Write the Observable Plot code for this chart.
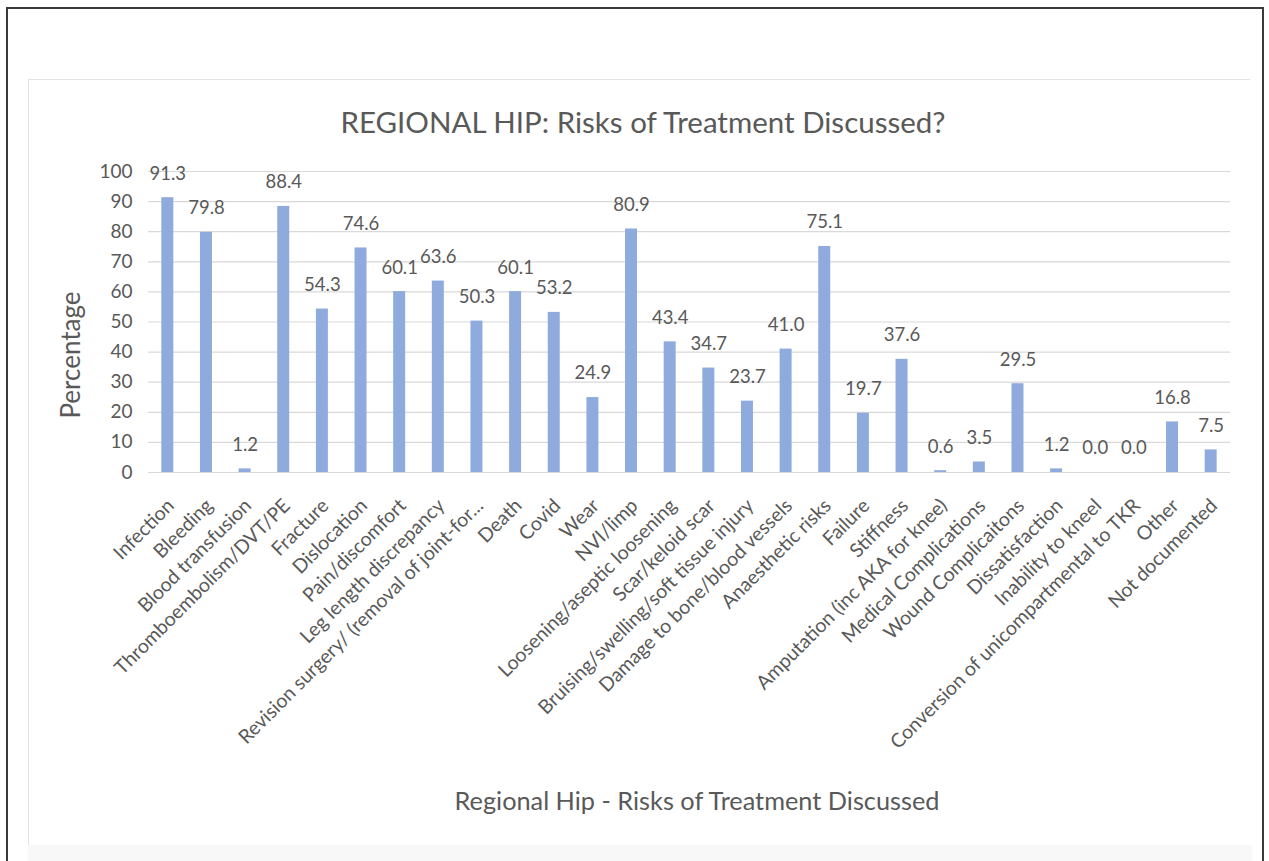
<!DOCTYPE html>
<html>
<head>
<meta charset="utf-8">
<script src="https://cdn.jsdelivr.net/npm/d3@7"></script>
<script src="https://cdn.jsdelivr.net/npm/@observablehq/plot@0.6"></script>
<style>
  html, body { margin: 0; padding: 0; background: #fff; }
  #page { position: relative; width: 1269px; height: 861px; overflow: hidden;
          font-family: Lato, "Open Sans", sans-serif; color: #595959; }
  #chart { position: absolute; left: 0; top: 0; }
  .outer { position: absolute; left: 6px; top: 7px; width: 1258px; height: 870px;
           border: 2px solid #3a3a3a; box-sizing: border-box; }
  .inner { position: absolute; left: 28px; top: 79px; width: 1222px; height: 766px;
           border-top: 1px solid #e3e3e3; border-left: 1px solid #e3e3e3; box-sizing: border-box; }
  .shade { position: absolute; left: 28px; top: 845px; width: 1224px; height: 16px; background: #f8f8f8; }
  .lbl { position: absolute; white-space: nowrap; pointer-events: none; }
  .title { left: 643px; top: 121px; transform: translate(-50%, -50%); font-size: 29.5px; }
  .xtitle { left: 697px; top: 800px; transform: translate(-50%, -50%); font-size: 25.3px; }
  .ytitle { left: 70px; top: 355px; transform: translate(-50%, -50%) rotate(-90deg); font-size: 26px; }
</style>
</head>
<body>
<div id="page">
  <div class="outer"></div>
  <div class="inner"></div>
  <div class="shade"></div>
  <div id="chart"></div>
  <div class="lbl title">REGIONAL HIP: Risks of Treatment Discussed?</div>
  <div class="lbl ytitle">Percentage</div>
  <div class="lbl xtitle">Regional Hip - Risks of Treatment Discussed</div>
</div>
<script>
// Risk categories discussed with patients (regional hip)
const categories = [
  "Infection",
  "Bleeding",
  "Blood transfusion",
  "Thromboembolism/DVT/PE",
  "Fracture",
  "Dislocation",
  "Pain/discomfort",
  "Leg length discrepancy",
  "Revision surgery/ (removal of joint-for...",
  "Death",
  "Covid",
  "Wear",
  "NVI/limp",
  "Loosening/aseptic loosening",
  "Scar/keloid scar",
  "Bruising/swelling/soft tissue injury",
  "Damage to bone/blood vessels",
  "Anaesthetic risks",
  "Failure",
  "Stiffness",
  "Amputation (inc AKA for knee)",
  "Medical Complications",
  "Wound Complicaitons",
  "Dissatisfaction",
  "Inability to kneel",
  "Conversion of unicompartmental to TKR",
  "Other",
  "Not documented"
];

// Percentage of records in which each risk was discussed
const percentages = [
  91.3, 79.8, 1.2, 88.4, 54.3, 74.6, 60.1, 63.6, 50.3, 60.1,
  53.2, 24.9, 80.9, 43.4, 34.7, 23.7, 41.0, 75.1, 19.7, 37.6,
  0.6, 3.5, 29.5, 1.2, 0.0, 0.0, 16.8, 7.5
];

// Y axis ticks
const yTicks = [0, 10, 20, 30, 40, 50, 60, 70, 80, 90, 100];

const rows = categories.map((c, i) => ({category: c, value: percentages[i]}));

const textColor = "#595959";
const barColor = "#8FAADC";
const gridColor = "#D9D9D9";

const chart = Plot.plot({
  width: 1269,
  height: 861,
  marginLeft: 148,
  marginRight: 39,
  marginTop: 171,
  marginBottom: 389,
  style: {fontFamily: "Lato, 'Open Sans', sans-serif", color: textColor, background: "transparent", overflow: "visible"},
  x: {domain: categories, paddingInner: 0.69, paddingOuter: 0.345, round: false, axis: null},
  y: {domain: [0, 100], axis: null},
  marks: [
    Plot.ruleY(yTicks, {stroke: gridColor, strokeWidth: 1.2}),
    Plot.barY(rows, {x: "category", y: "value", fill: barColor}),
    Plot.axisY(yTicks, {
      tickSize: 0, tickPadding: 16, fontSize: 19, fill: textColor, label: null
    }),
    Plot.text(rows, {
      x: "category", y: "value", text: d => d.value.toFixed(1),
      dy: -24, lineAnchor: "middle", fontSize: 18.5, fill: textColor
    }),
    Plot.text(categories, {
      x: d => d, frameAnchor: "bottom", text: d => d,
      rotate: -45, textAnchor: "end", lineAnchor: "middle",
      dx: 3, dy: 30, fontSize: 19.5, fill: textColor
    })
  ]
});

document.getElementById("chart").appendChild(chart);
</script>
</body>
</html>
